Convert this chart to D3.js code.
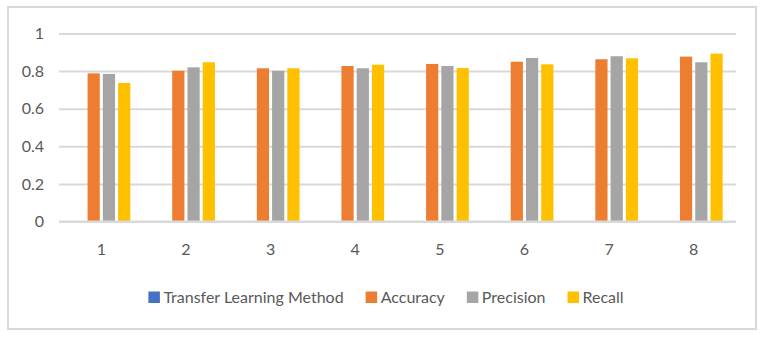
<!DOCTYPE html>
<html><head><meta charset="utf-8">
<script src="https://cdn.jsdelivr.net/npm/d3@7"></script>
<style>body{margin:0;background:#fff}svg{display:block}text{font-family:Lato,"Open Sans",sans-serif;fill:#595959}</style>
</head><body><svg id="c" width="764" height="338"></svg>
<script>
const categories = ["1","2","3","4","5","6","7","8"];
const seriesNames = ["Transfer Learning Method","Accuracy","Precision","Recall"];
const transfer = [0,0,0,0,0,0,0,0];
const accuracy = [0.788,0.802,0.815,0.827,0.838,0.850,0.863,0.877];
const precision = [0.785,0.820,0.802,0.815,0.827,0.870,0.879,0.847];
const recall = [0.737,0.847,0.815,0.834,0.816,0.836,0.868,0.893];
const yTicks = [0,0.2,0.4,0.6,0.8,1];
const colors = ["#4472C4","#ED7D31","#A5A5A5","#FFC000"];

const series = [transfer, accuracy, precision, recall];
const svg = d3.select("#c");
svg.append("rect").attr("x",8).attr("y",7).attr("width",748).attr("height",322)
  .attr("fill","#fff").attr("stroke","#d9d9d9").attr("stroke-width",2);

const L=59,R=736,T=33.5,B=221.5;
const x0 = d3.scaleBand().domain(categories).range([L,R]).paddingInner(0.315).paddingOuter(0.1575);
const x1 = d3.scaleBand().domain(d3.range(4)).range([0,x0.bandwidth()]).paddingInner(0.2).paddingOuter(0);
const y = d3.scaleLinear().domain([0,1]).range([B,T]);

const yAxis = svg.append("g").attr("transform",`translate(${L},0)`)
  .call(d3.axisLeft(y).tickValues(yTicks).tickFormat(d=>d3.format("~g")(d)).tickSize(-(R-L)).tickPadding(15));
yAxis.select(".domain").remove();
yAxis.selectAll(".tick line").attr("stroke","#d9d9d9").attr("stroke-width",2);
yAxis.selectAll(".tick text").attr("font-size",16).style("font-family","Lato").attr("fill","#595959");

const g = svg.append("g");
categories.forEach((c,i)=>{
  series.forEach((s,k)=>{
    g.append("rect").attr("x",x0(c)+x1(k)).attr("width",x1.bandwidth())
      .attr("y",y(s[i])).attr("height",y(0)-y(s[i])).attr("fill",colors[k]);
  });
});
svg.append("line").attr("x1",L).attr("x2",R).attr("y1",y(0)).attr("y2",y(0)).attr("stroke","#d9d9d9").attr("stroke-width",2);

const xAxis = svg.append("g").attr("transform",`translate(0,${B})`)
  .call(d3.axisBottom(x0).tickSize(0).tickPadding(22));
xAxis.select(".domain").remove();
xAxis.selectAll(".tick text").attr("font-size",16).style("font-family","Lato").attr("fill","#595959");

// legend
const lg = svg.append("g");
let xpos = 0;
const items = [];
seriesNames.forEach((n,k)=>{
  const it = lg.append("g");
  it.append("rect").attr("x",0).attr("y",-11.5).attr("width",11.5).attr("height",11.5).attr("fill",colors[k]);
  const t = it.append("text").attr("x",15).attr("y",0).attr("font-size",16).text(n);
  const w = 15 + t.node().getComputedTextLength();
  it.attr("transform",`translate(${xpos},0)`);
  xpos += w + 22;
});
const total = xpos - 22;
lg.attr("transform",`translate(${386 - total/2},303)`);
</script></body></html>
